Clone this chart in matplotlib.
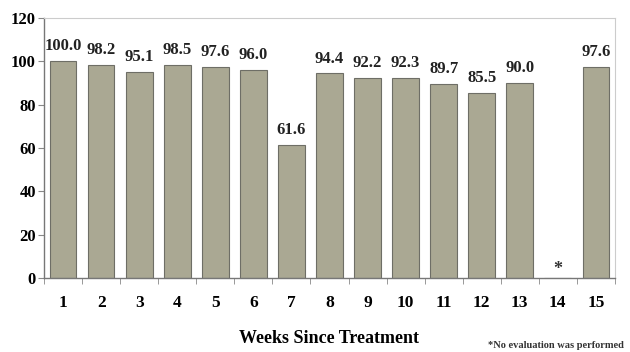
import numpy as np
import matplotlib.pyplot as plt

weeks = [str(i) for i in range(1, 16)]
values = [100.0, 98.2, 95.1, 98.5, 97.6, 96.0, 61.6, 94.4, 92.2, 92.3, 89.7, 85.5, 90.0, None, 97.6]
yticks = [0, 20, 40, 60, 80, 100, 120]

plt.rcParams['font.family'] = ['Liberation Serif', 'DejaVu Serif']
plt.rcParams['font.weight'] = 'bold'

fig = plt.figure(figsize=(6.3, 3.52), dpi=100)
ax = fig.add_axes([0.070, 0.210, 0.906, 0.739])

x = np.arange(1, 16)
h = [v if v is not None else 0 for v in values]
bars = ax.bar(x, h, width=0.7, color='#aaa893', edgecolor='#6e6e66', linewidth=0.8)

for xi, v in zip(x, values):
    if v is None:
        ax.text(xi, 4, '*', ha='center', va='center', fontsize=13, color='#333333')
        continue
    ax.annotate('%.1f' % v, (xi, v), xytext=(0, 5), textcoords='offset points',
                ha='center', va='bottom', fontsize=12, color='#222222')

ax.set_xlim(0.5, 15.5)
ax.set_ylim(0, 120)
ax.set_yticks(yticks)
ax.set_yticklabels([str(t) for t in yticks], fontsize=12)
ax.set_xticks(x)
ax.set_xticklabels(weeks, fontsize=12.5)
ax.set_xticks(np.arange(0.5, 16, 1), minor=True)
ax.tick_params(axis='x', which='major', length=0, pad=12)
ax.tick_params(axis='x', which='minor', length=4, direction='out', color='#888888')
ax.tick_params(axis='y', length=4, color='#888888', pad=2)

for s in ['top', 'right']:
    ax.spines[s].set_color('#cccccc')
    ax.spines[s].set_linewidth(0.8)
for s in ['left', 'bottom']:
    ax.spines[s].set_color('#777777')
    ax.spines[s].set_linewidth(1.0)

ax.set_xlabel('Weeks Since Treatment', fontsize=13, fontweight='bold', labelpad=14)
fig.text(0.775, 0.005, '*No evaluation was performed', fontsize=7.5, va='bottom', color='#333333')

fig.savefig('out.png', dpi=100)
